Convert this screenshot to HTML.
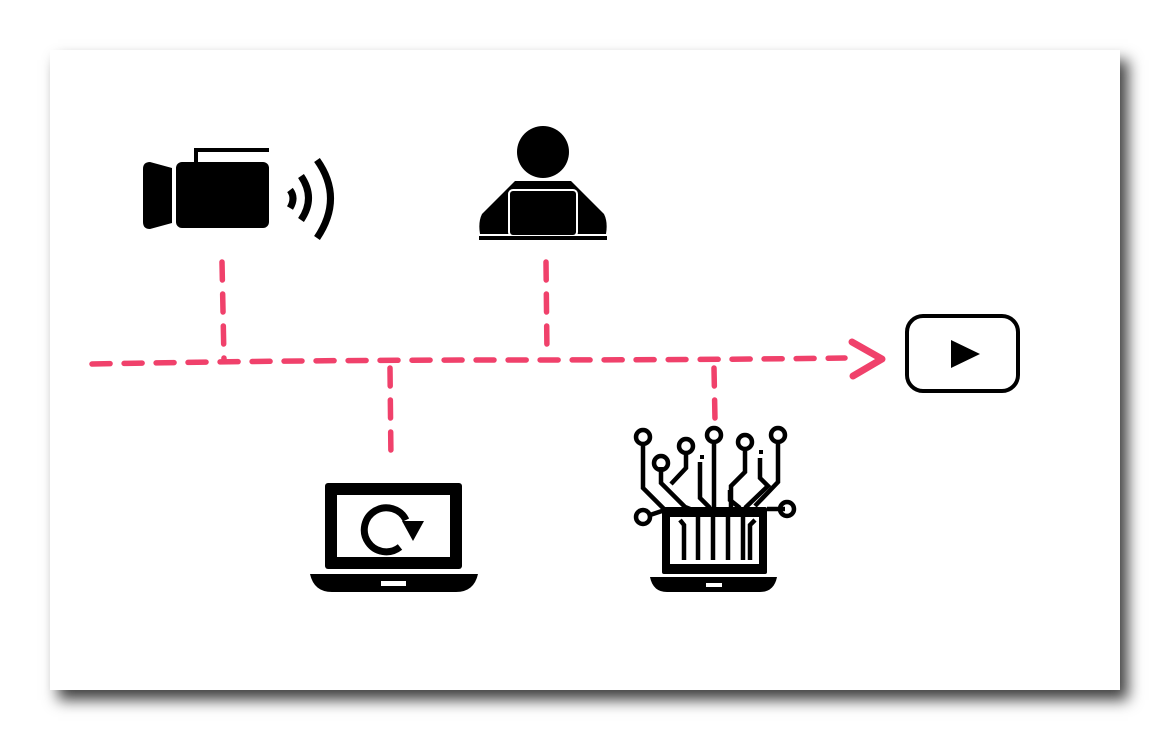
<!DOCTYPE html>
<html><head><style>
html,body{margin:0;padding:0;background:#fff;width:1170px;height:740px;overflow:hidden}
.card{position:absolute;left:50px;top:50px;width:1070px;height:640px;background:#fff;box-shadow:8px 10px 14px rgba(0,0,0,0.75)}
svg{position:absolute;left:0;top:0}
</style></head><body>
<div class="card"></div>
<svg width="1170" height="740" viewBox="0 0 1170 740">
<g stroke="#f0416b" stroke-width="5.5" fill="none" stroke-linecap="round" stroke-dasharray="18 14">
<path d="M92 364 Q300 360 500 360 T845 358"/>
<path d="M222 262 L224 360"/>
<path d="M546 262 L547 355"/>
<path d="M390 368 L391 462"/>
<path d="M714 368 L715 420"/>
</g>
<path d="M852 342 L882 359 L853 376" stroke="#f0416b" stroke-width="7" fill="none" stroke-linecap="round" stroke-linejoin="round"/>
<!-- camera -->
<path d="M150 162 L172 168 L172 223 L150 229 Q143 229 143 222 L143 169 Q143 162 150 162Z" fill="#000"/>
<rect x="176" y="162" width="93" height="66" rx="6" fill="#000"/>
<path d="M196 164 L196 150 L269 150" stroke="#000" stroke-width="4" fill="none"/>
<path d="M290 190 Q296 198 290 208" stroke="#000" stroke-width="7" fill="none"/>
<path d="M301 176 Q316 198 301 220" stroke="#000" stroke-width="7" fill="none"/>
<path d="M317 160 Q344 198 317 238" stroke="#000" stroke-width="7" fill="none"/>
<!-- person -->
<circle cx="543" cy="152" r="26" fill="#000"/>
<path d="M515 181 L571 181 L604 214 Q608 222 606 234 L480 234 Q478 222 482 214 Z" fill="#000"/>
<rect x="509" y="190" width="68" height="46" rx="4" fill="#000" stroke="#fff" stroke-width="2"/>
<rect x="479" y="236" width="128" height="4" fill="#000"/>
<!-- laptop refresh -->
<rect x="325" y="483" width="137" height="86" rx="3" fill="#000"/>
<rect x="337" y="495" width="113" height="62" fill="#fff"/>
<path d="M310 574 L478 574 Q474 592 456 592 L332 592 Q314 592 310 574Z" fill="#000"/>
<rect x="381" y="581" width="25" height="5" fill="#fff"/>
<path d="M406 520 A22 22 0 1 0 400 547" stroke="#000" stroke-width="7" fill="none"/>
<path d="M402 521 L424 521 L413 541Z" fill="#000"/>
<!-- circuit laptop -->
<rect x="662" y="507" width="105" height="67" rx="2" fill="#000"/>
<rect x="670" y="517" width="89" height="47" fill="#fff"/>
<g stroke="#000" stroke-width="4.5" fill="none">
<path d="M680 520 L684 525 L684 560 M698 517 L698 560 M713 517 L713 560 M728 517 L728 560 M743 517 L743 560 M755 520 L750 525 L750 560"/>
<path d="M643 443 L643 488 L665 510"/>
<path d="M661 467 L661 483 L685 507 L690 509"/>
<path d="M686 452 L686 468 L671 484"/>
<path d="M714 440 L714 508"/>
<path d="M700 462 L700 498 L710 508"/>
<path d="M745 450 L745 472 L731 486 L731 508"/>
<path d="M730 490 L730 500 L740 508"/>
<path d="M760 458 L760 478 L768 486 L745 508"/>
<path d="M778 440 L778 482 L755 506"/>
<path d="M650 515 L665 510 M785 509 L767 509"/>
<circle cx="643" cy="437" r="7"/><circle cx="661" cy="463" r="7"/><circle cx="686" cy="446" r="7"/>
<circle cx="714" cy="435" r="7"/><circle cx="745" cy="442" r="7"/><circle cx="778" cy="435" r="7"/>
<circle cx="643" cy="517" r="7"/><circle cx="787" cy="509" r="7"/>
</g>
<rect x="700" y="455" width="4" height="4" fill="#000"/><rect x="759" y="450" width="4" height="4" fill="#000"/>
<path d="M650 577 L777 577 Q774 592 760 592 L667 592 Q653 592 650 577Z" fill="#000"/>
<rect x="706" y="583" width="16" height="4" fill="#fff"/>
<!-- youtube -->
<rect x="907" y="316" width="111" height="75" rx="16" fill="none" stroke="#000" stroke-width="4"/>
<path d="M951 340 L980 354 L951 368Z" fill="#000"/>
</svg>
</body></html>
